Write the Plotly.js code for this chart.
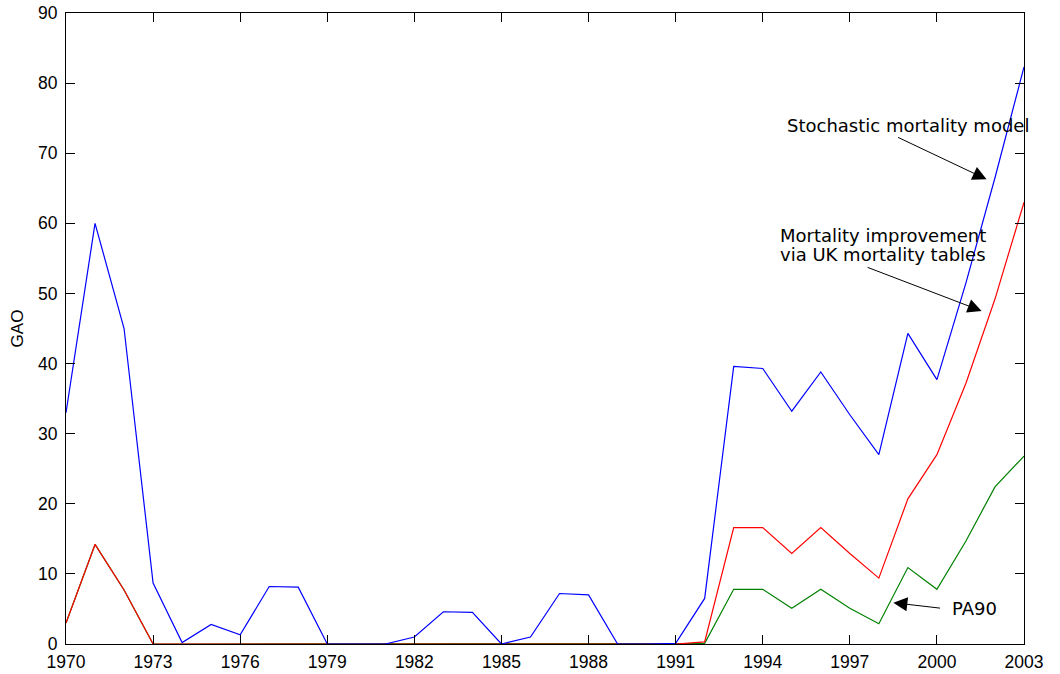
<!DOCTYPE html>
<html>
<head>
<meta charset="utf-8">
<script src="https://cdn.plot.ly/plotly-3.0.1.min.js"></script>
<style>html,body{margin:0;padding:0;background:#fff;}#chart{width:1060px;height:674px;}</style>
</head>
<body>
<div id="chart"></div>
<script>
const years = [1970,1971,1972,1973,1974,1975,1976,1977,1978,1979,1980,1981,1982,1983,1984,1985,1986,1987,1988,1989,1990,1991,1992,1993,1994,1995,1996,1997,1998,1999,2000,2001,2002,2003];
const stochastic = [33.0,60.0,45.0,8.7,0.2,2.8,1.3,8.2,8.1,0,0,0,1.0,4.6,4.5,0,1.0,7.2,7.0,0,0,0.1,6.5,39.6,39.3,33.2,38.8,32.7,27.0,44.3,37.7,51.5,66.5,82.3];
const ukTables = [3.0,14.2,7.7,0,0,0,0,0,0,0,0,0,0,0,0,0,0,0,0,0,0,0,0.3,16.6,16.6,12.9,16.6,12.9,9.4,20.7,27.0,37.2,49.2,63.0];
const pa90 = [3.0,14.2,7.7,0,0,0,0,0,0,0,0,0,0,0,0,0,0,0,0,0,0,0,0.1,7.8,7.8,5.1,7.8,5.1,2.9,10.9,7.8,14.7,22.4,26.8];
const yTitle = 'GAO';
const labelStochastic = 'Stochastic mortality model';
const labelUK1 = 'Mortality improvement';
const labelUK2 = 'via UK mortality tables';
const labelPA90 = 'PA90';

const traces = [
  {x: years, y: pa90, type: 'scatter', mode: 'lines', line: {color: '#008000', width: 1.2}, hoverinfo: 'skip'},
  {x: years, y: ukTables, type: 'scatter', mode: 'lines', line: {color: '#ff0000', width: 1.2}, hoverinfo: 'skip'},
  {x: years, y: stochastic, type: 'scatter', mode: 'lines', line: {color: '#0000ff', width: 1.2}, hoverinfo: 'skip'}
];

const tickFont = {family: 'Liberation Sans, Arial, sans-serif', size: 17.5, color: '#000'};
const annFont = {family: 'DejaVu Sans, Liberation Sans, Arial, sans-serif', size: 18, color: '#000'};
const arrowStyle = {showarrow: true, arrowhead: 2, arrowsize: 2.8, arrowwidth: 1, arrowcolor: '#000', axref: 'x', ayref: 'y', text: ''};

const layout = {
  width: 1060, height: 674,
  margin: {l: 66, r: 36, t: 13, b: 30, pad: 0},
  paper_bgcolor: '#fff', plot_bgcolor: '#fff',
  showlegend: false,
  font: tickFont,
  xaxis: {
    range: [1970, 2003], tick0: 1970, dtick: 3, ticks: 'inside', ticklen: 9, tickcolor: '#000',
    showline: true, linecolor: '#000', linewidth: 1, mirror: 'ticks', showgrid: false, zeroline: false,
    tickfont: tickFont, ticklabelstandoff: 2
  },
  yaxis: {
    range: [0, 90], tick0: 0, dtick: 10, ticks: 'inside', ticklen: 9, tickcolor: '#000',
    showline: true, linecolor: '#000', linewidth: 1, mirror: 'ticks', showgrid: false, zeroline: false,
    tickfont: tickFont, ticklabelstandoff: 4,
    title: {text: yTitle, font: {family: 'Liberation Sans, Arial, sans-serif', size: 17, color: '#000'}, standoff: 10}
  },
  annotations: [
    {x: 1998.99, y: 74.0, xref: 'x', yref: 'y', text: labelStochastic, showarrow: false, xanchor: 'center', yanchor: 'middle', font: annFont},
    Object.assign({x: 2001.71, y: 66.28, ax: 1998.61, ay: 72.36}, arrowStyle),
    {x: 1994.53, y: 58.3, xref: 'x', yref: 'y', text: labelUK1, showarrow: false, xanchor: 'left', yanchor: 'middle', font: annFont},
    {x: 1994.53, y: 55.6, xref: 'x', yref: 'y', text: labelUK2, showarrow: false, xanchor: 'left', yanchor: 'middle', font: annFont},
    Object.assign({x: 2001.54, y: 47.5, ax: 1997.56, ay: 53.8}, arrowStyle),
    {x: 2000.45, y: 5.1, xref: 'x', yref: 'y', text: labelPA90, showarrow: false, xanchor: 'left', yanchor: 'middle', font: annFont},
    Object.assign({x: 1998.50, y: 5.89, ax: 2000.16, ay: 5.09}, arrowStyle)
  ]
};

Plotly.newPlot('chart', traces, layout, {staticPlot: true, displayModeBar: false});
</script>
</body>
</html>
